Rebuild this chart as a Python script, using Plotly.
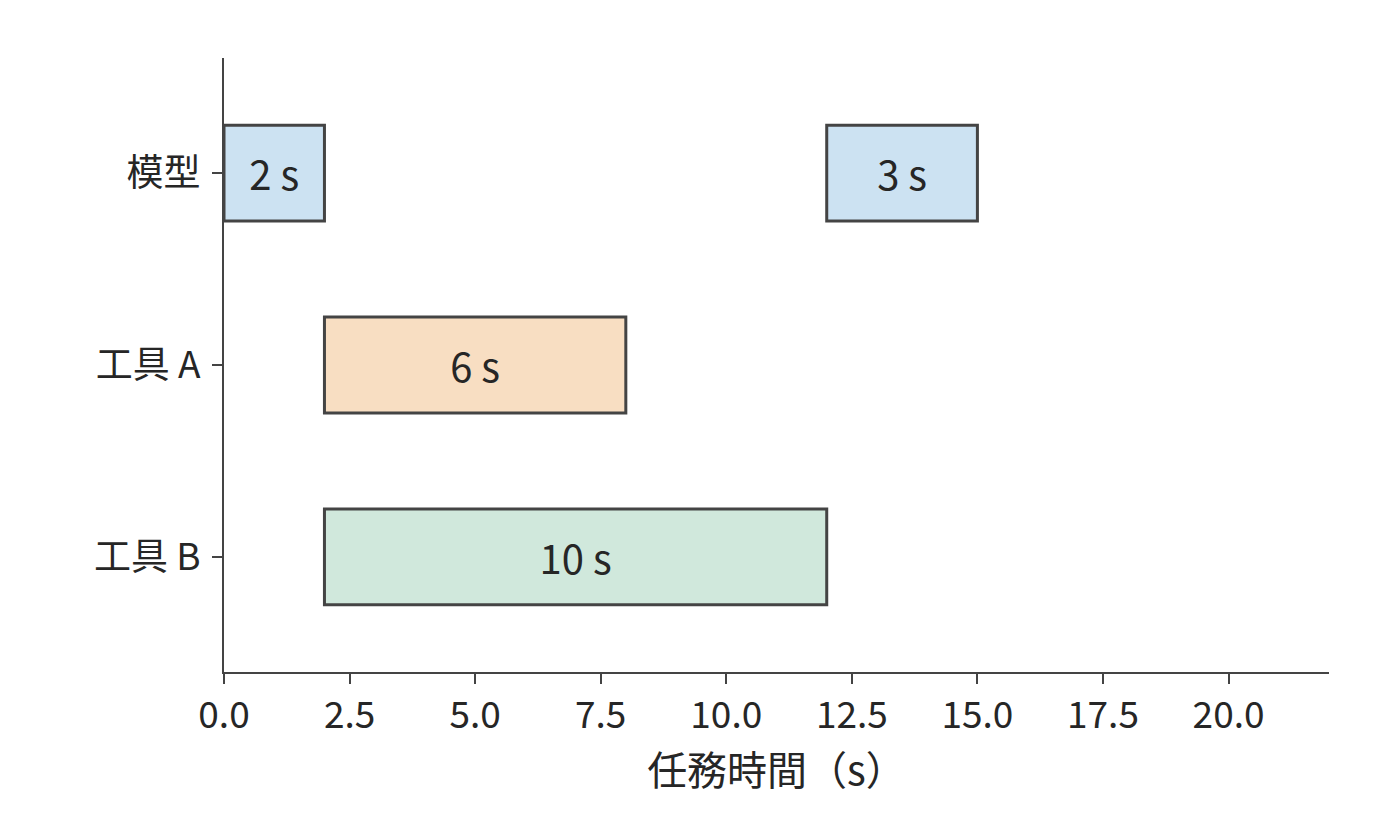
import plotly.graph_objects as go

# task data
tasks = ["模型", "模型", "工具 A", "工具 B"]
starts = [0, 12, 2, 2]
durations = [2, 3, 6, 10]
category_order = ["工具 B", "工具 A", "模型"]
task_colors = {"模型": "#cce2f2", "工具 A": "#f8dec2", "工具 B": "#d0e8dc"}

font_family = "Noto Sans CJK JP"
ink = "#262626"
edge = "#444444"

fig = go.Figure()
fig.add_trace(go.Bar(
    y=tasks,
    x=durations,
    base=starts,
    orientation="h",
    width=0.5,
    marker=dict(color=[task_colors[t] for t in tasks],
                line=dict(color=edge, width=3)),
    text=["{} s".format(d) for d in durations],
    textposition="inside",
    insidetextanchor="middle",
    textangle=0,
    textfont=dict(family=font_family, size=40, color=ink),
    showlegend=False,
    hoverinfo="skip",
))

# page body adds an 8px offset, so margins are shifted accordingly
fig.update_layout(
    width=1400, height=840,
    paper_bgcolor="white", plot_bgcolor="white",
    margin=dict(l=216, r=79, t=50, b=176),
    font=dict(family=font_family, size=37, color=ink),
    uniformtext=dict(minsize=10, mode="show"),
)

fig.update_xaxes(
    range=[0, 22],
    tickvals=[0, 2.5, 5, 7.5, 10, 12.5, 15, 17.5, 20],
    ticktext=["0.0", "2.5", "5.0", "7.5", "10.0", "12.5", "15.0", "17.5", "20.0"],
    showgrid=False, zeroline=False,
    showline=True, linecolor=edge, linewidth=2,
    ticks="outside", ticklen=10, tickwidth=2, tickcolor=edge,
    tickfont=dict(size=37),
    title=dict(text="任務時間（s）", font=dict(size=40), standoff=6),
)
fig.update_yaxes(
    type="category",
    categoryorder="array", categoryarray=category_order,
    range=[-0.6, 2.6],
    showgrid=False, zeroline=False,
    showline=True, linecolor=edge, linewidth=2,
    ticks="outside", ticklen=10, tickwidth=2, tickcolor=edge,
    tickfont=dict(size=37),
    ticklabelstandoff=4,
)

fig.write_html("out.html")
